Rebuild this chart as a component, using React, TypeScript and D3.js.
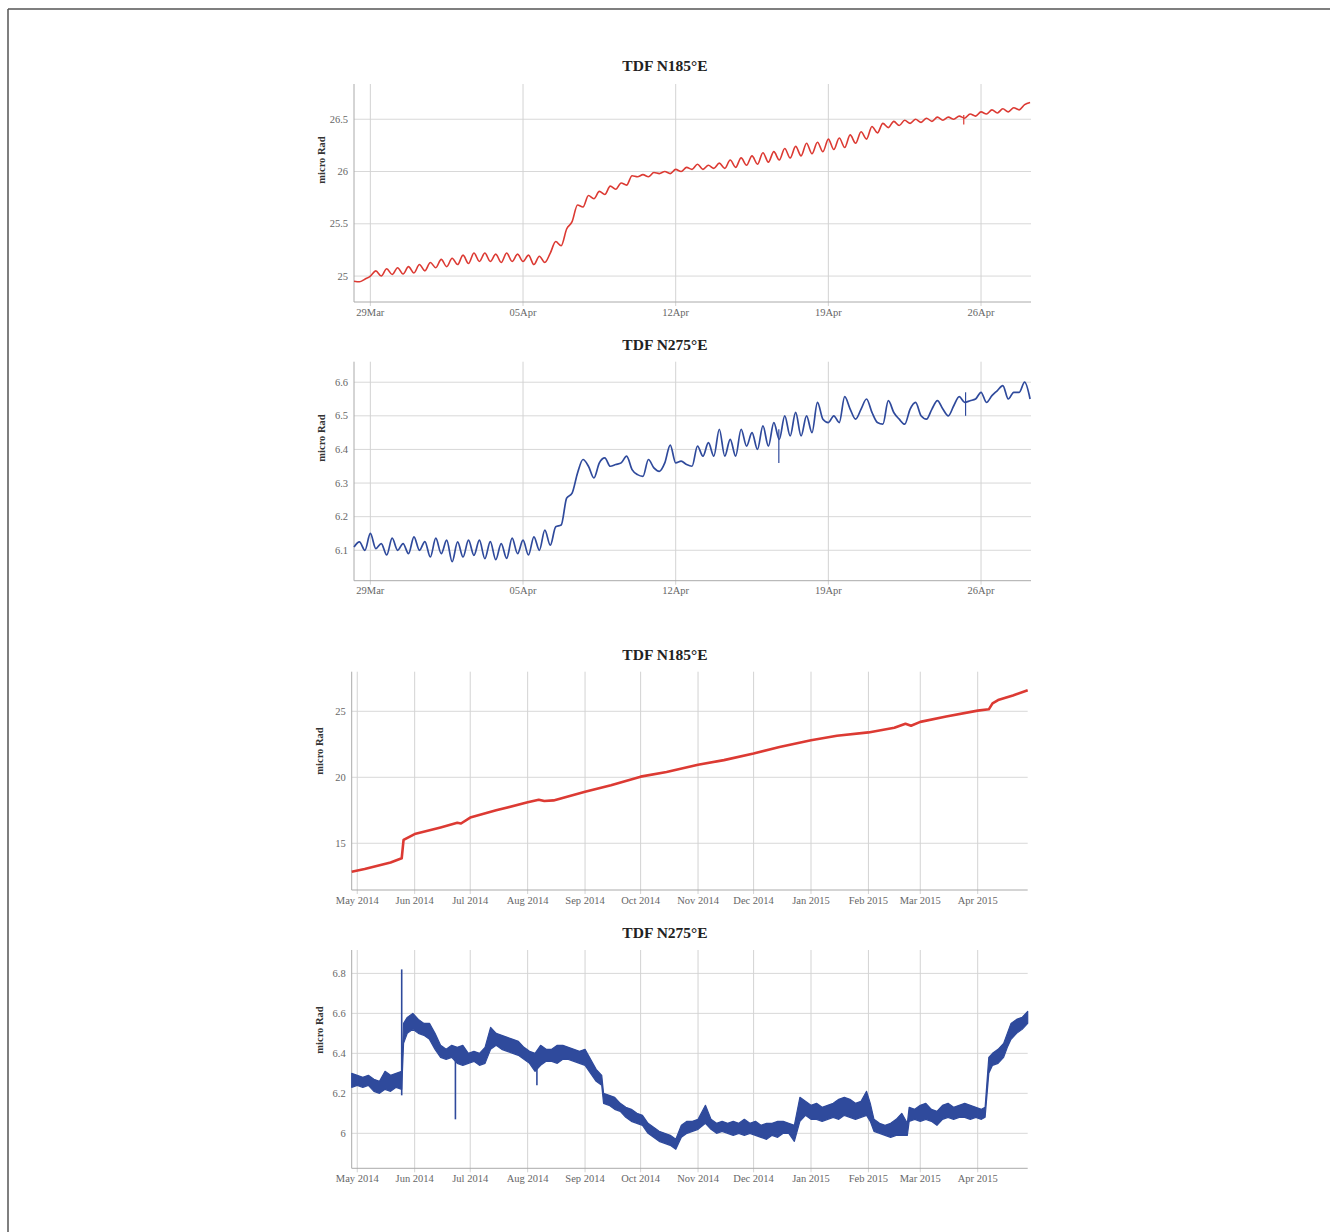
import * as d3 from "d3";

const parseDay = d3.timeParse("%Y-%m-%d");
const parseHour = d3.timeParse("%Y-%m-%dT%H:%M");

// ---- April 2015 zoom: one reading every 6 h, starting 28 Mar 06:00 ----
const APR_START = "2015-03-28T06:00";
const APR_END = "2015-04-28T07:00";
const STEP_HOURS = 6;

// each row: D 06h, D 12h, D 18h, D+1 00h
const N185_APR = [
  24.95, 24.945, 24.97, 25.0, // Mar 28
  25.05, 25.0, 25.07, 25.015,
  25.08, 25.02, 25.09, 25.03,
  25.11, 25.05, 25.13, 25.08,
  25.16, 25.09, 25.17, 25.11, // Apr 1
  25.2, 25.12, 25.22, 25.14,
  25.22, 25.14, 25.21, 25.13,
  25.22, 25.14, 25.21, 25.14,
  25.2, 25.11, 25.19, 25.13, // Apr 5
  25.22, 25.33, 25.29, 25.45,
  25.52, 25.68, 25.66, 25.77,
  25.74, 25.81, 25.78, 25.86,
  25.83, 25.89, 25.87, 25.96,
  25.95, 25.97, 25.95, 25.99, // Apr 10
  25.98, 26.0, 25.98, 26.02,
  26.0, 26.04, 26.02, 26.07,
  26.02, 26.06, 26.03, 26.08,
  26.03, 26.11, 26.04, 26.13,
  26.06, 26.15, 26.07, 26.18, // Apr 15
  26.09, 26.19, 26.11, 26.22,
  26.13, 26.24, 26.15, 26.27,
  26.17, 26.28, 26.19, 26.31,
  26.21, 26.32, 26.23, 26.35,
  26.27, 26.38, 26.31, 26.43, // Apr 20
  26.37, 26.46, 26.42, 26.48,
  26.44, 26.49, 26.46, 26.5,
  26.47, 26.51, 26.48, 26.52,
  26.49, 26.52, 26.5, 26.53,
  26.51, 26.55, 26.53, 26.57, // Apr 25
  26.55, 26.59, 26.56, 26.6,
  26.57, 26.61, 26.59, 26.64,
  26.66,
];

const N275_APR = [
  6.11, 6.125, 6.1, 6.15, // Mar 28
  6.105, 6.12, 6.086, 6.136,
  6.1, 6.12, 6.09, 6.14,
  6.1, 6.126, 6.08, 6.136,
  6.09, 6.13, 6.066, 6.125, // Apr 1
  6.08, 6.13, 6.085, 6.13,
  6.075, 6.126, 6.072, 6.12,
  6.076, 6.136, 6.09, 6.13,
  6.086, 6.14, 6.1, 6.16, // Apr 5
  6.115, 6.17, 6.175, 6.255,
  6.27, 6.33, 6.37, 6.35,
  6.315, 6.36, 6.375, 6.35,
  6.355, 6.36, 6.38, 6.34,
  6.325, 6.32, 6.37, 6.345, // Apr 10
  6.335, 6.36, 6.413, 6.36,
  6.365, 6.355, 6.35, 6.41,
  6.38, 6.42, 6.38, 6.46,
  6.38, 6.43, 6.38, 6.46,
  6.41, 6.45, 6.4, 6.47, // Apr 15
  6.41, 6.48, 6.43, 6.5,
  6.44, 6.51, 6.44, 6.5,
  6.45, 6.54, 6.49, 6.48,
  6.5, 6.48, 6.557, 6.52,
  6.49, 6.52, 6.55, 6.51, // Apr 20
  6.48, 6.475, 6.545, 6.51,
  6.49, 6.475, 6.52, 6.54,
  6.5, 6.49, 6.52, 6.545,
  6.52, 6.5, 6.53, 6.557,
  6.54, 6.545, 6.55, 6.57, // Apr 25
  6.54, 6.56, 6.575, 6.59,
  6.55, 6.57, 6.57, 6.6,
  6.55,
];

const N185_APR_SPIKES = [{ t: "2015-04-25T05:00", lo: 26.45, hi: 26.54 }];
const N275_APR_SPIKES = [
  { t: "2015-04-16T17:30", lo: 6.36, hi: 6.46 },
  { t: "2015-04-25T07:00", lo: 6.5, hi: 6.57 },
];

const WEEK_TICKS = ["2015-03-29", "2015-04-05", "2015-04-12", "2015-04-19", "2015-04-26"];

// ---- one year: Apr 2014 - Apr 2015 ----
const YEAR_START = "2014-04-28";
const YEAR_END = "2015-04-28";
const MONTH_TICKS = [
  "2014-05-01", "2014-06-01", "2014-07-01", "2014-08-01", "2014-09-01", "2014-10-01",
  "2014-11-01", "2014-12-01", "2015-01-01", "2015-02-01", "2015-03-01", "2015-04-01",
];

const N185_YEAR: [string, number][] = [
  ["2014-04-28", 12.85], ["2014-05-05", 13.05], ["2014-05-12", 13.3], ["2014-05-19", 13.55],
  ["2014-05-25", 13.86], ["2014-05-26", 15.25], ["2014-06-01", 15.7], ["2014-06-15", 16.2],
  ["2014-06-24", 16.55], ["2014-06-26", 16.5], ["2014-07-01", 16.95], ["2014-07-15", 17.5],
  ["2014-08-01", 18.1], ["2014-08-07", 18.3], ["2014-08-10", 18.2], ["2014-08-15", 18.25],
  ["2014-09-01", 18.9], ["2014-09-15", 19.4], ["2014-10-01", 20.05], ["2014-10-15", 20.4],
  ["2014-11-01", 20.95], ["2014-11-15", 21.3], ["2014-12-01", 21.8], ["2014-12-15", 22.3],
  ["2015-01-01", 22.8], ["2015-01-15", 23.15], ["2015-02-01", 23.4], ["2015-02-15", 23.75],
  ["2015-02-21", 24.05], ["2015-02-24", 23.9], ["2015-03-01", 24.2], ["2015-03-15", 24.6],
  ["2015-04-01", 25.05], ["2015-04-07", 25.15], ["2015-04-09", 25.6], ["2015-04-12", 25.85],
  ["2015-04-20", 26.2], ["2015-04-28", 26.6],
];

// noisy trace drawn as its low / high envelope
const N275_YEAR: [string, number, number][] = [
  ["2014-04-28", 6.23, 6.3], ["2014-05-01", 6.24, 6.29], ["2014-05-04", 6.23, 6.28],
  ["2014-05-07", 6.24, 6.29], ["2014-05-10", 6.21, 6.27], ["2014-05-13", 6.2, 6.26],
  ["2014-05-16", 6.22, 6.31], ["2014-05-19", 6.21, 6.29], ["2014-05-22", 6.23, 6.3],
  ["2014-05-25", 6.22, 6.31], ["2014-05-26", 6.45, 6.55], ["2014-05-28", 6.5, 6.58],
  ["2014-05-31", 6.52, 6.6], ["2014-06-03", 6.5, 6.57], ["2014-06-06", 6.49, 6.55],
  ["2014-06-09", 6.47, 6.55], ["2014-06-12", 6.42, 6.5], ["2014-06-15", 6.38, 6.44],
  ["2014-06-18", 6.37, 6.42], ["2014-06-21", 6.38, 6.44], ["2014-06-24", 6.35, 6.43],
  ["2014-06-27", 6.34, 6.44], ["2014-06-30", 6.35, 6.4], ["2014-07-03", 6.36, 6.41],
  ["2014-07-06", 6.34, 6.4], ["2014-07-09", 6.35, 6.43], ["2014-07-12", 6.42, 6.53],
  ["2014-07-15", 6.44, 6.5], ["2014-07-18", 6.42, 6.49], ["2014-07-21", 6.41, 6.48],
  ["2014-07-24", 6.4, 6.47], ["2014-07-27", 6.39, 6.46], ["2014-07-30", 6.37, 6.43],
  ["2014-08-02", 6.35, 6.41], ["2014-08-05", 6.31, 6.4], ["2014-08-08", 6.34, 6.44],
  ["2014-08-11", 6.36, 6.42], ["2014-08-14", 6.36, 6.42], ["2014-08-17", 6.35, 6.44],
  ["2014-08-20", 6.37, 6.44], ["2014-08-23", 6.37, 6.43], ["2014-08-26", 6.36, 6.42],
  ["2014-08-29", 6.35, 6.41], ["2014-09-01", 6.34, 6.42], ["2014-09-04", 6.3, 6.37],
  ["2014-09-07", 6.26, 6.32], ["2014-09-10", 6.24, 6.29], ["2014-09-11", 6.15, 6.2],
  ["2014-09-14", 6.14, 6.19], ["2014-09-17", 6.12, 6.18], ["2014-09-20", 6.11, 6.15],
  ["2014-09-23", 6.08, 6.13], ["2014-09-26", 6.06, 6.12], ["2014-09-29", 6.05, 6.1],
  ["2014-10-02", 6.04, 6.09], ["2014-10-05", 6.0, 6.05], ["2014-10-08", 5.98, 6.03],
  ["2014-10-11", 5.96, 6.01], ["2014-10-14", 5.95, 6.0], ["2014-10-17", 5.94, 5.99],
  ["2014-10-20", 5.92, 5.97], ["2014-10-23", 5.98, 6.04], ["2014-10-26", 6.0, 6.06],
  ["2014-10-29", 6.01, 6.06], ["2014-11-01", 6.02, 6.07], ["2014-11-05", 6.05, 6.14],
  ["2014-11-08", 6.02, 6.07], ["2014-11-11", 6.0, 6.05], ["2014-11-14", 6.01, 6.06],
  ["2014-11-17", 6.0, 6.05], ["2014-11-20", 5.99, 6.06], ["2014-11-23", 6.0, 6.05],
  ["2014-11-26", 5.99, 6.07], ["2014-11-29", 6.0, 6.05], ["2014-12-02", 5.99, 6.06],
  ["2014-12-05", 5.98, 6.04], ["2014-12-08", 5.97, 6.05], ["2014-12-11", 5.99, 6.05],
  ["2014-12-14", 5.98, 6.06], ["2014-12-17", 6.0, 6.06], ["2014-12-20", 6.0, 6.05],
  ["2014-12-23", 5.96, 6.04], ["2014-12-26", 6.06, 6.18], ["2014-12-29", 6.09, 6.16],
  ["2015-01-01", 6.07, 6.14], ["2015-01-04", 6.07, 6.15], ["2015-01-07", 6.06, 6.13],
  ["2015-01-10", 6.07, 6.14], ["2015-01-13", 6.08, 6.15], ["2015-01-16", 6.07, 6.17],
  ["2015-01-19", 6.09, 6.18], ["2015-01-22", 6.08, 6.17], ["2015-01-25", 6.07, 6.15],
  ["2015-01-28", 6.08, 6.16], ["2015-01-31", 6.09, 6.21], ["2015-02-02", 6.06, 6.15],
  ["2015-02-04", 6.01, 6.07], ["2015-02-07", 6.0, 6.05], ["2015-02-10", 5.99, 6.04],
  ["2015-02-13", 5.98, 6.05], ["2015-02-16", 5.99, 6.07], ["2015-02-19", 5.99, 6.1],
  ["2015-02-22", 5.99, 6.05], ["2015-02-23", 6.06, 6.13], ["2015-02-26", 6.07, 6.12],
  ["2015-03-01", 6.06, 6.14], ["2015-03-04", 6.07, 6.15], ["2015-03-07", 6.06, 6.12],
  ["2015-03-10", 6.04, 6.11], ["2015-03-13", 6.07, 6.14], ["2015-03-16", 6.08, 6.15],
  ["2015-03-19", 6.07, 6.13], ["2015-03-22", 6.08, 6.14], ["2015-03-25", 6.08, 6.15],
  ["2015-03-28", 6.07, 6.14], ["2015-03-31", 6.08, 6.13], ["2015-04-03", 6.07, 6.12],
  ["2015-04-05", 6.08, 6.13], ["2015-04-07", 6.3, 6.38], ["2015-04-09", 6.34, 6.4],
  ["2015-04-12", 6.35, 6.42], ["2015-04-15", 6.38, 6.45], ["2015-04-17", 6.43, 6.5],
  ["2015-04-19", 6.47, 6.55], ["2015-04-22", 6.5, 6.57], ["2015-04-25", 6.52, 6.58],
  ["2015-04-28", 6.55, 6.61],
];

const N275_YEAR_SPIKES = [
  { t: "2014-05-25", lo: 6.19, hi: 6.82 },
  { t: "2014-06-23", lo: 6.07, hi: 6.38 },
  { t: "2014-08-06", lo: 6.24, hi: 6.35 },
];

const RED = "#dc3a33";
const BLUE = "#2f4a9c";
const FONT = "'Liberation Serif', 'DejaVu Serif', serif";

type Spike = { t: string; lo: number; hi: number };

function Panel({ title, titleY, top, bottom, x, labelY, yDomain, yTicks, xTicks, xFormat, children }: any) {
  const [left, right] = x.range();
  const y = d3.scaleLinear().domain(yDomain).range([bottom, top]);
  return (
    <g fontFamily={FONT}>
      <text x={665} y={titleY} textAnchor="middle" fontSize={15.5} fontWeight="bold" fill="#222">
        {title}
      </text>
      <text
        transform={`translate(${left - 29},${labelY}) rotate(-90)`}
        textAnchor="middle"
        fontSize={10.5}
        fontWeight="bold"
        fill="#333"
      >
        micro Rad
      </text>
      {yTicks.map((v: number) => (
        <g key={v}>
          <line x1={left} x2={right} y1={y(v)} y2={y(v)} stroke="#d8d8d8" />
          <text x={left - 6} y={y(v) + 3.5} textAnchor="end" fontSize={10.5} fill="#666">
            {String(v)}
          </text>
        </g>
      ))}
      {xTicks.map((d: Date) => (
        <g key={+d}>
          <line x1={x(d)} x2={x(d)} y1={top} y2={bottom + 4} stroke="#d3d3d3" />
          <text x={x(d)} y={bottom + 13.5} textAnchor="middle" fontSize={10.5} fill="#666">
            {xFormat(d)}
          </text>
        </g>
      ))}
      <line x1={left} x2={left} y1={top} y2={bottom} stroke="#aaa" />
      <line x1={left} x2={right} y1={bottom} y2={bottom} stroke="#aaa" />
      {children(y)}
    </g>
  );
}

function spikes(list: Spike[], x: any, y: any, parse: any, color: string, w: number) {
  return list.map((s) => (
    <line key={s.t} x1={x(parse(s.t))} x2={x(parse(s.t))} y1={y(s.lo)} y2={y(s.hi)} stroke={color} strokeWidth={w} />
  ));
}

export default function App() {
  const start = parseHour(APR_START)!;
  const xApr = d3.scaleTime().domain([start, parseHour(APR_END)!]).range([354, 1031]);
  const xYear = d3.scaleTime().domain([parseDay(YEAR_START)!, parseDay(YEAR_END)!]).range([351.7, 1027.7]);

  const aprTime = (i: number) => d3.timeHour.offset(start, i * STEP_HOURS);
  const weekTicks = WEEK_TICKS.map((d) => parseDay(d)!);
  const monthTicks = MONTH_TICKS.map((d) => parseDay(d)!);
  const fmtWeek = d3.timeFormat("%d%b");
  const fmtMonth = d3.timeFormat("%b %Y");

  return (
    <svg width={1330} height={1232} style={{ position: "absolute", left: 0, top: 0, background: "#fff" }}>
      <rect x={0} y={0} width={1330} height={1232} fill="#fff" />
      <line x1={8} x2={1330} y1={9} y2={9} stroke="#555" strokeWidth={1.5} />
      <line x1={8} x2={8} y1={9} y2={1232} stroke="#555" strokeWidth={1.5} />

      <Panel title="TDF N185°E" titleY={71} top={84} bottom={302} x={xApr} labelY={160}
        yDomain={[24.752, 26.837]} yTicks={[25, 25.5, 26, 26.5]} xTicks={weekTicks} xFormat={fmtWeek}>
        {(y: any) => {
          const line = d3.line<number>().x((_, i) => xApr(aprTime(i))).y((v) => y(v)).curve(d3.curveMonotoneX);
          return (
            <g>
              <path d={line(N185_APR)!} fill="none" stroke={RED} strokeWidth={1.6} />
              {spikes(N185_APR_SPIKES, xApr, y, parseHour, RED, 1.2)}
            </g>
          );
        }}
      </Panel>

      <Panel title="TDF N275°E" titleY={350} top={361.7} bottom={580.7} x={xApr} labelY={438}
        yDomain={[6.0095, 6.661]} yTicks={[6.1, 6.2, 6.3, 6.4, 6.5, 6.6]} xTicks={weekTicks} xFormat={fmtWeek}>
        {(y: any) => {
          const line = d3.line<number>().x((_, i) => xApr(aprTime(i))).y((v) => y(v)).curve(d3.curveMonotoneX);
          return (
            <g>
              <path d={line(N275_APR)!} fill="none" stroke={BLUE} strokeWidth={1.7} />
              {spikes(N275_APR_SPIKES, xApr, y, parseHour, BLUE, 1.2)}
            </g>
          );
        }}
      </Panel>

      <Panel title="TDF N185°E" titleY={660} top={671.7} bottom={890} x={xYear} labelY={751}
        yDomain={[11.46, 28.0]} yTicks={[15, 20, 25]} xTicks={monthTicks} xFormat={fmtMonth}>
        {(y: any) => {
          const line = d3.line<[string, number]>().x((d) => xYear(parseDay(d[0])!)).y((d) => y(d[1]));
          return <path d={line(N185_YEAR)!} fill="none" stroke={RED} strokeWidth={2.6} strokeLinejoin="round" />;
        }}
      </Panel>

      <Panel title="TDF N275°E" titleY={938} top={950} bottom={1168.3} x={xYear} labelY={1030}
        yDomain={[5.825, 6.917]} yTicks={[6, 6.2, 6.4, 6.6, 6.8]} xTicks={monthTicks} xFormat={fmtMonth}>
        {(y: any) => {
          const area = d3
            .area<[string, number, number]>()
            .x((d) => xYear(parseDay(d[0])!))
            .y0((d) => y(d[1]))
            .y1((d) => y(d[2]));
          return (
            <g>
              <path d={area(N275_YEAR)!} fill={BLUE} stroke={BLUE} strokeWidth={1.2} strokeLinejoin="round" />
              {spikes(N275_YEAR_SPIKES, xYear, y, parseDay, BLUE, 1.6)}
            </g>
          );
        }}
      </Panel>
    </svg>
  );
}
